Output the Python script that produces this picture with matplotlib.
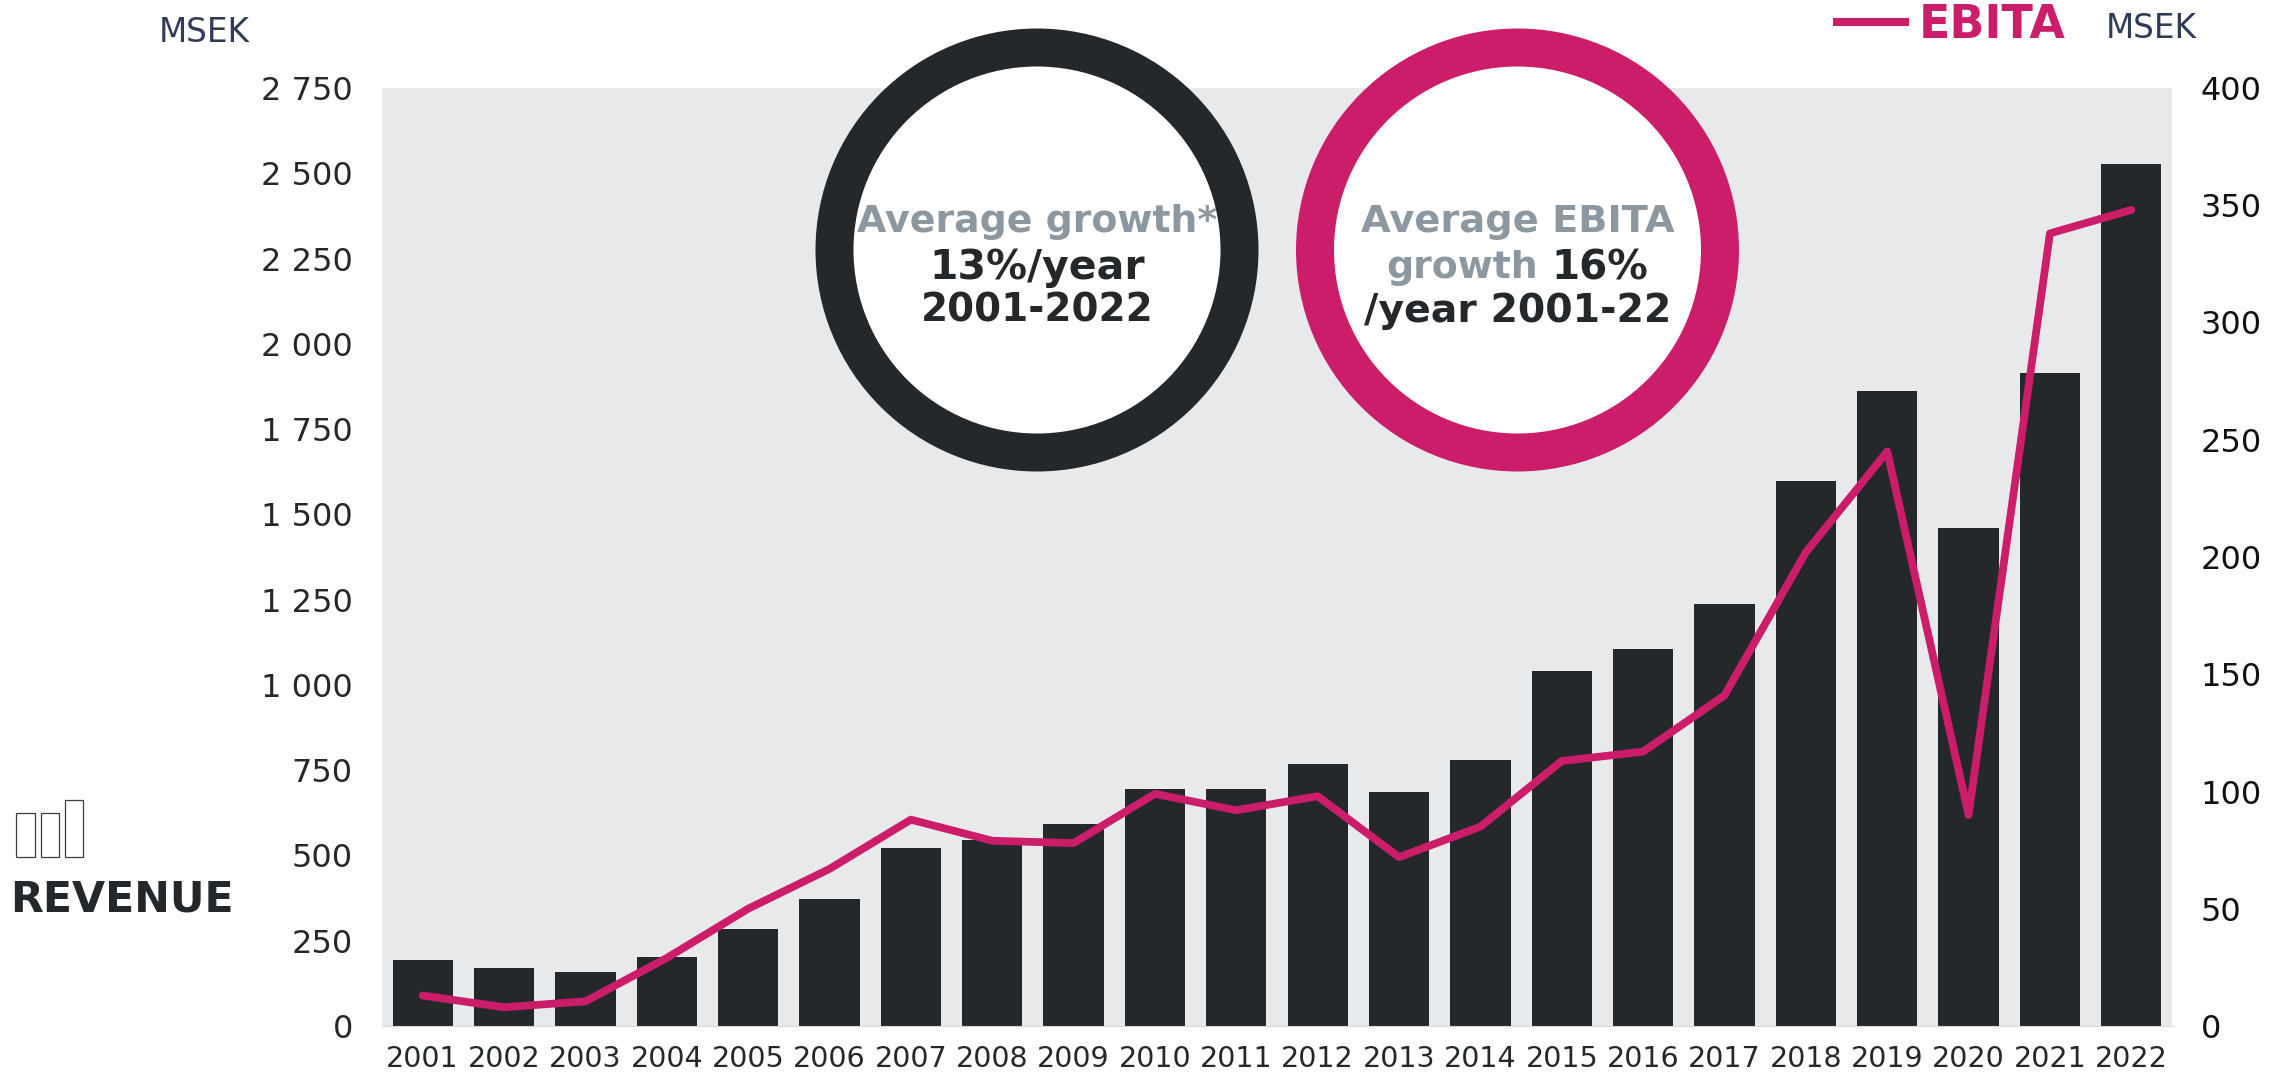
import numpy as np
import matplotlib
matplotlib.use('Agg')
import matplotlib.pyplot as plt
from matplotlib.patches import Circle, Rectangle
from matplotlib.ticker import FuncFormatter

years = [2001, 2002, 2003, 2004, 2005, 2006, 2007, 2008, 2009, 2010, 2011,
         2012, 2013, 2014, 2015, 2016, 2017, 2018, 2019, 2020, 2021, 2022]
revenue = [193, 171, 158, 201, 283, 373, 522, 544, 591, 694, 694,
           767, 685, 779, 1041, 1105, 1238, 1597, 1863, 1460, 1914, 2527]
ebita = [13, 8, 10.5, 29, 50, 67, 88, 79, 78, 99, 92,
         98, 72, 85, 113, 117, 141, 202, 245, 90, 338, 348]
revenue_ticks = [0, 250, 500, 750, 1000, 1250, 1500, 1750, 2000, 2250, 2500, 2750]
ebita_ticks = [0, 50, 100, 150, 200, 250, 300, 350, 400]

DARK = '#25282a'
PINK = '#cc1d6a'
GREY = '#8d979f'
PANEL = '#e8e9eb'
NAVY = '#2f3b57'

W, H = 2290, 1077
plt.rcParams['font.family'] = 'DejaVu Sans'

fig = plt.figure(figsize=(W / 100, H / 100), dpi=100)
ax = fig.add_axes([382 / W, 1 - 1026 / H, (2172 - 382) / W, (1026 - 88) / H])
ax.set_facecolor(PANEL)

x = np.arange(len(years))
ax.bar(x, revenue, width=0.74, color=DARK, zorder=2)
ax.set_xlim(-0.5, len(years) - 0.5)
ax.set_ylim(0, 2750)
ax.set_yticks(revenue_ticks)
ax.yaxis.set_major_formatter(FuncFormatter(lambda v, p: f'{int(v):,}'.replace(',', ' ')))
ax.set_xticks(x)
ax.set_xticklabels(years)
ax.tick_params(axis='y', length=0, pad=21, labelsize=23, labelcolor=DARK)
ax.tick_params(axis='x', length=0, pad=14, labelsize=20.5, labelcolor=DARK)
for s in ['top', 'left', 'right']:
    ax.spines[s].set_visible(False)
ax.spines['bottom'].set_color('#d9d9d9')

ax2 = ax.twinx()
ax2.plot(x, ebita, color=PINK, lw=5.6, solid_capstyle='round', solid_joinstyle='round', zorder=3)
ax2.set_ylim(0, 400)
ax2.set_yticks(ebita_ticks)
ax2.tick_params(axis='y', length=0, pad=20.5, labelsize=23, labelcolor='#111111')
for s in ax2.spines.values():
    s.set_visible(False)

# overlay in pixel coordinates for the rings, legend and side labels
ov = fig.add_axes([0, 0, 1, 1])
ov.set_xlim(0, W)
ov.set_ylim(H, 0)
ov.axis('off')
ov.patch.set_alpha(0)

for cx, col in [(1037, DARK), (1517.5, PINK)]:
    ov.add_patch(Circle((cx, 250), 221.5, color=col, lw=0))
    ov.add_patch(Circle((cx, 250), 183.5, color='white', lw=0))

ring = dict(fontweight='bold', ha='center', va='center')
ov.text(1037, 222, 'Average growth*', color=GREY, fontsize=27.3, **ring)
ov.text(1037, 268, '13%/year', color=DARK, fontsize=29.5, **ring)
ov.text(1037, 311, '2001-2022', color=DARK, fontsize=28, **ring)
ov.text(1518, 222, 'Average EBITA', color=GREY, fontsize=27.6, **ring)
ov.text(1518, 311, '/year 2001-22', color=DARK, fontsize=28.4, **ring)

# second line of the right ring changes colour half way
t1 = ov.text(1386, 268, 'growth', color=GREY, fontsize=27.3, fontweight='bold', va='center')
t2 = ov.text(1551, 268, '16%', color=DARK, fontsize=29.2, fontweight='bold', va='center')

ov.text(159, 32, 'MSEK', color=NAVY, fontsize=23.5, va='center')
ov.text(2106, 28, 'MSEK', color=NAVY, fontsize=23.5, va='center')
ov.text(1919, 25, 'EBITA', color=PINK, fontsize=33, fontweight='bold', va='center')
ov.plot([1833, 1909], [22, 22], color=PINK, lw=5.8, solid_capstyle='butt')
ov.text(10, 900, 'REVENUE', color=DARK, fontsize=30.8, fontweight='bold', va='center')

# bar icon above the REVENUE label
for bx, by, bw, bh in [(16, 813, 19, 44), (41, 813, 18, 44), (65, 800, 18, 57)]:
    ov.add_patch(Rectangle((bx, by), bw, bh, fill=False, ec='#3a3d3f', lw=0.9))

fig.savefig('out.png', dpi=100)
